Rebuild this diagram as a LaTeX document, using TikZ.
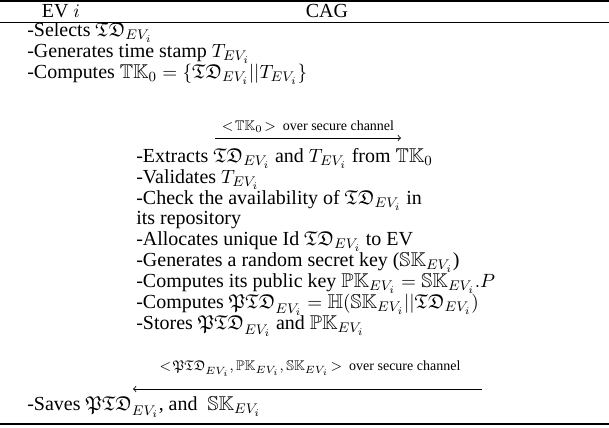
\documentclass[tikz,border=0pt]{standalone}
\usepackage{amsmath}
\usepackage{amssymb}
\usepackage[no-math]{fontspec}
\setmainfont{Liberation Serif}
\newcommand{\TDv}{\mathfrak{TD}_{EV_i}}
\newcommand{\PTDv}{\mathfrak{PTD}_{EV_i}}
\newcommand{\SKv}{\mathbb{SK}_{EV_i}}
\newcommand{\PKv}{\mathbb{PK}_{EV_i}}
\begin{document}
\begin{tikzpicture}[x=0.5714pt,y=-0.5714pt,
  txt/.style={anchor=base west,inner sep=0pt,font=\fontsize{11.4}{13}\selectfont},
  hdr/.style={anchor=base,inner sep=0pt,font=\fontsize{11.4}{13}\selectfont},
  lab/.style={anchor=base,inner sep=0pt,font=\fontsize{8}{9}\selectfont},
  msg/.style={-to,line width=0.45pt},
  thickrule/.style={line width=0.9pt},
  thinrule/.style={line width=0.5pt}]
\useasboundingbox (0,0) rectangle (609,428);
% rules
\coordinate (r1l) at (0,1); \coordinate (r1r) at (609,1);
\coordinate (r2l) at (0,22.5); \coordinate (r2r) at (609,22.5);
\coordinate (r3l) at (0,424); \coordinate (r3r) at (609,424);
\draw[thickrule] (r1l) -- (r1r);
\draw[thinrule] (r2l) -- (r2r);
\draw[thickrule] (r3l) -- (r3r);
% header
\node[hdr] (hev) at (61,18) {EV $i$};
\node[hdr] (hcag) at (327,18) {CAG};
% EV side
\node[txt] (e1) at (27,37) {-Selects $\TDv$};
\node[txt] (e2) at (27,58) {-Generates time stamp $T_{EV_i}$};
\node[txt] (e3) at (27,79) {-Computes $\mathbb{TK}_0=\{\TDv||T_{EV_i}\}$};
% message 1
\node[lab] (m1) at (308,131) {$<\!\mathbb{TK}_0\!>$ \ over secure channel};
\coordinate (m1s) at (215,138); \coordinate (m1e) at (401,138);
\draw[msg] (m1s) -- (m1e);
% CAG side
\node[txt] (c1) at (136,163) {-Extracts $\TDv$ and $T_{EV_i}$ from $\mathbb{TK}_0$};
\node[txt] (c2) at (136,184) {-Validates $T_{EV_i}$};
\node[txt] (c3) at (136,205) {-Check the availability of $\TDv$ in};
\node[txt] (c4) at (136,225) {its repository};
\node[txt] (c5) at (136,246) {-Allocates unique Id $\TDv$ to EV};
\node[txt] (c6) at (136,267) {-Generates a random secret key ($\SKv$)};
\node[txt] (c7) at (136,288) {-Computes its public key $\PKv=\SKv.P$};
\node[txt] (c8) at (136,309) {-Computes $\PTDv=\mathbb{H}(\SKv||\TDv)$};
\node[txt] (c9) at (136,330) {-Stores $\PTDv$ and $\PKv$};
% message 2
\node[lab] (m2) at (310,371) {$<\!\PTDv,\PKv,\SKv\!>$ \ over secure channel};
\coordinate (m2s) at (482,389); \coordinate (m2e) at (133,389);
\draw[msg] (m2s) -- (m2e);
% EV side
\node[txt] (e4) at (27,411) {-Saves $\PTDv$, and \ $\SKv$};
\end{tikzpicture}
\end{document}
